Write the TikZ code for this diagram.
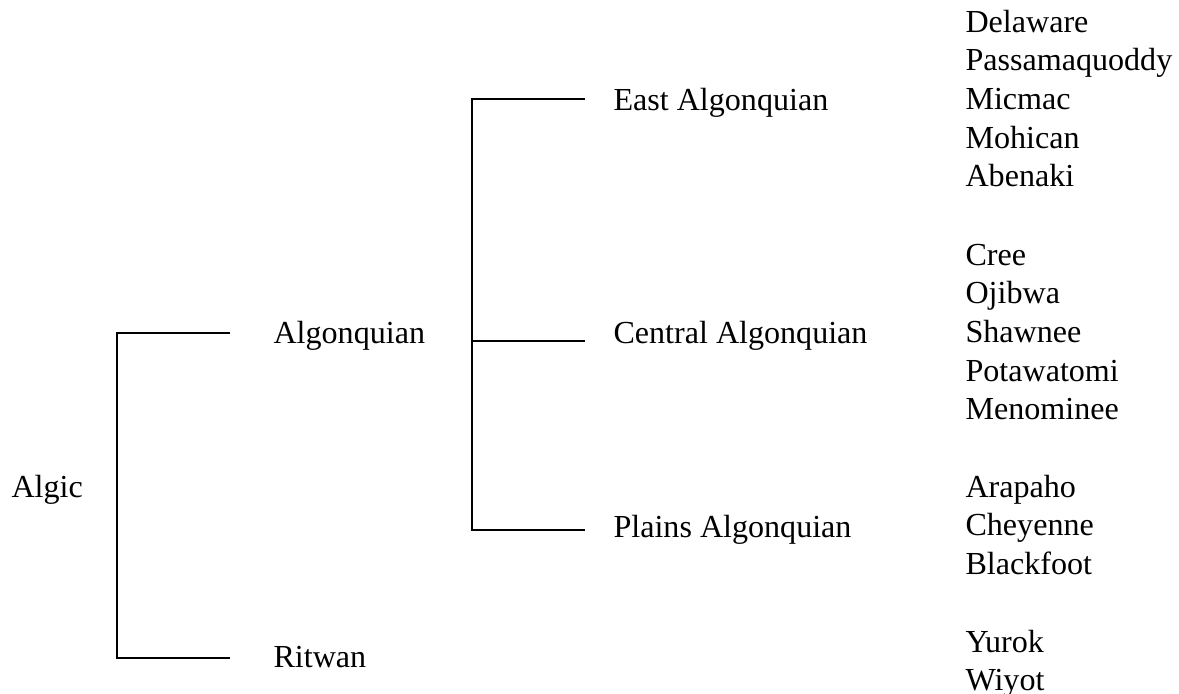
\documentclass[tikz,border=0pt]{standalone}
\usepackage{fontspec}
\setmainfont{Liberation Serif}
\tikzset{
  lang/.style={anchor=base west, inner sep=0pt, font=\fontsize{12}{14.4}\selectfont},
  branch/.style={line width=0.4pt}
}
\begin{document}
\begin{tikzpicture}[x=0.374pt, y=-0.374pt]
\useasboundingbox (0,0) rectangle (1179,693);

% family and branches
\node[lang] (algic) at (11,497) {Algic};
\node[lang] (algonquian) at (273,343) {Algonquian};
\node[lang] (ritwan) at (273,667) {Ritwan};
\node[lang] (east) at (613,110) {East Algonquian};
\node[lang] (central) at (613,343) {Central Algonquian};
\node[lang] (plains) at (613,537) {Plains Algonquian};

% languages
\foreach \name [count=\i] in {Delaware,Passamaquoddy,Micmac,Mohican,Abenaki}
  \node[lang] (east-\i) at (965,{32+38.7*(\i-1)}) {\name};
\foreach \name [count=\i] in {Cree,Ojibwa,Shawnee,Potawatomi,Menominee}
  \node[lang] (central-\i) at (965,{265+38.7*(\i-1)}) {\name};
\foreach \name [count=\i] in {Arapaho,Cheyenne,Blackfoot}
  \node[lang] (plains-\i) at (965,{497+38.7*(\i-1)}) {\name};
\foreach \name [count=\i] in {Yurok,Wiyot}
  \node[lang] (ritwan-\i) at (965,{652+38.7*(\i-1)}) {\name};

% brackets
\coordinate (algic-top) at (117,333);
\coordinate (algic-bot) at (117,658);
\coordinate (to-algonquian) at (230,333);
\coordinate (to-ritwan) at (230,658);
\draw[branch] (to-algonquian) -- (algic-top) -- (algic-bot) -- (to-ritwan);

\coordinate (alg-top) at (472,99);
\coordinate (alg-mid) at (472,341);
\coordinate (alg-bot) at (472,530);
\coordinate (to-east) at (585,99);
\coordinate (to-central) at (585,341);
\coordinate (to-plains) at (585,530);
\draw[branch] (to-east) -- (alg-top) -- (alg-bot) -- (to-plains);
\draw[branch] (alg-mid) -- (to-central);
\end{tikzpicture}
\end{document}
